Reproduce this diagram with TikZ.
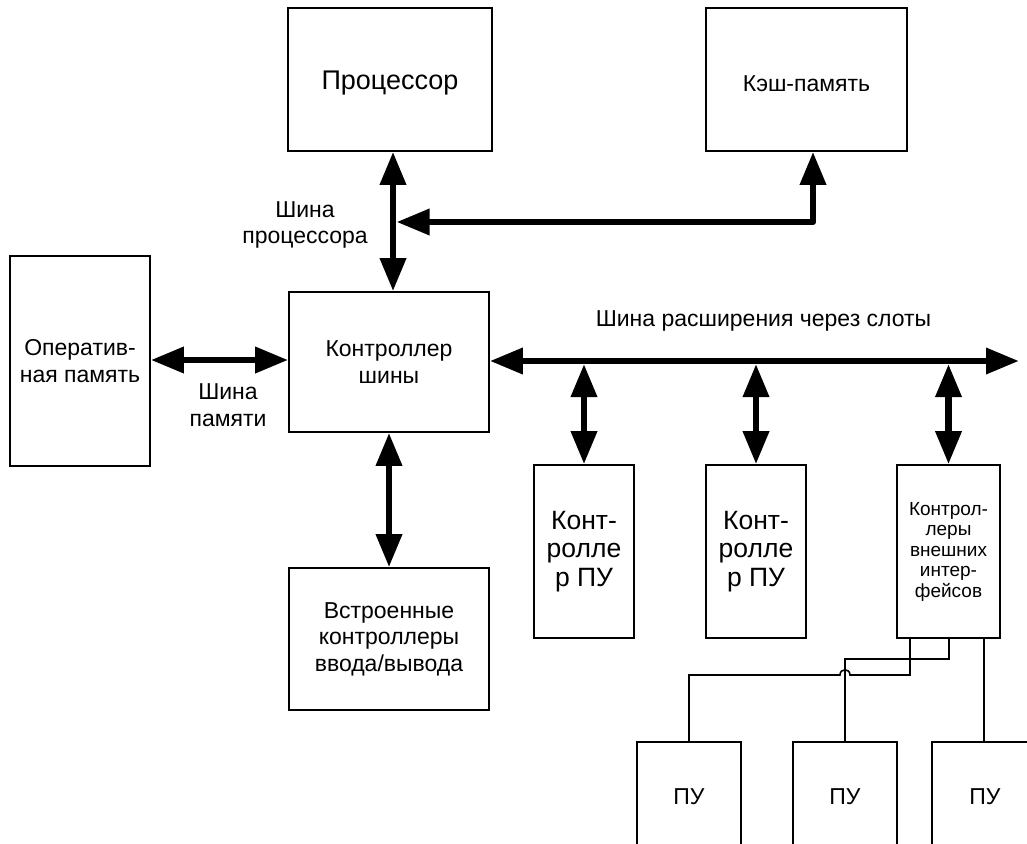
\documentclass[tikz,border=0pt]{standalone}
\usepackage{fontspec}
\setmainfont{Liberation Sans}
\usetikzlibrary{arrows.meta}
\newcommand{\lowered}[2]{\raisebox{-#1}[\height][\depth]{#2}}
\begin{document}
\begin{tikzpicture}[x=1pt,y=-1pt,
  box/.style={draw,line width=1.6pt,inner sep=0pt,align=center,
    font=\fontsize{23}{26.5}\selectfont},
  lbl/.style={inner sep=0pt,align=center,font=\fontsize{23}{26.5}\selectfont},
  bus/.style={line width=6.5pt,line join=round,
    {Triangle[length=33pt,width=25pt]}-{Triangle[length=33pt,width=25pt]}},
  wire/.style={line width=1.6pt}]
\useasboundingbox (0,0) rectangle (1027,843);
\clip (0,0) rectangle (1027,843);

% main blocks
\node[box,minimum width=204pt,minimum height=143pt,
  font=\fontsize{27}{31}\selectfont] (proc) at (390,79.5)
  {\lowered{4pt}{Процессор}};
\node[box,minimum width=201pt,minimum height=143pt,
  font=\fontsize{23}{26.5}\selectfont] (cache) at (806.5,79.5)
  {\lowered{4pt}{Кэш-память}};
\node[box,minimum width=140pt,minimum height=210pt] (ram) at (80,361)
  {Оператив-\\ная память};
\node[box,minimum width=200pt,minimum height=140pt] (ctl) at (389,362)
  {Контроллер\\шины};
\node[box,minimum width=200pt,minimum height=142pt] (io) at (389,639)
  {Встроенные\\контроллеры\\ввода/вывода};

% peripheral controllers
\node[box,minimum width=100pt,minimum height=173pt,
  font=\fontsize{26.5}{28.5}\selectfont] (pc1) at (584,551.5) {Конт-\\ролле\\р ПУ};
\node[box,minimum width=100pt,minimum height=173pt,
  font=\fontsize{26.5}{28.5}\selectfont] (pc2) at (756,551.5) {Конт-\\ролле\\р ПУ};
\node[box,minimum width=103pt,minimum height=173pt,
  font=\fontsize{19}{20.5}\selectfont] (ext) at (948.5,551.5)
  {Контрол-\\леры\\внешних\\интер-\\фейсов};

% peripheral devices (run past the lower edge)
\node[box,minimum width=104pt,minimum height=110pt] (dev1) at (689,797) {ПУ};
\node[box,minimum width=104pt,minimum height=110pt] (dev2) at (845,797) {ПУ};
\node[box,minimum width=106pt,minimum height=110pt] (dev3) at (985,797) {ПУ};

% bus labels
\node[lbl] (lproc) at (305,225) {Шина\\процессора};
\node[lbl] (lmem) at (228,405) {Шина\\памяти};
\node[lbl] (lexp) at (763.5,321) {Шина расширения через слоты};

% processor bus and cache branch
\draw[bus] ([xshift=3pt]proc.south) -- ([xshift=4pt]ctl.north);
\coordinate (tap) at (396.5,222);
\draw[bus] ([xshift=6.5pt]cache.south) |- (tap);

% memory bus
\draw[bus] ([yshift=1pt]ram.east) -- ([yshift=1pt]ram.east -| ctl.west);

% I/O controllers
\draw[bus] (ctl.south) -- (io.north);

% expansion bus with slots
\coordinate (busend) at (1019,361);
\draw[bus] (ctl.east |- busend) -- (busend);
\draw[bus] ([yshift=-3pt]pc1.north |- busend) -- (pc1.north);
\draw[bus] ([yshift=-3pt]pc2.north |- busend) -- (pc2.north);
\draw[bus] ([yshift=-3pt]ext.north |- busend) -- (ext.north);

% external interface wiring
\coordinate (hopR) at (850,675);
\coordinate (hopL) at (840,675);
\draw[wire] ([xshift=-38.5pt]ext.south) |- (hopR)
  .. controls ([yshift=7pt]hopR) and ([yshift=7pt]hopL) .. (hopL)
  -| (dev1.north);
\draw[wire] ([xshift=0.5pt]ext.south) |- (845,659) -- (dev2.north);
\draw[wire] ([xshift=35.5pt]ext.south) -- ([xshift=-1pt]dev3.north);
\end{tikzpicture}
\end{document}
